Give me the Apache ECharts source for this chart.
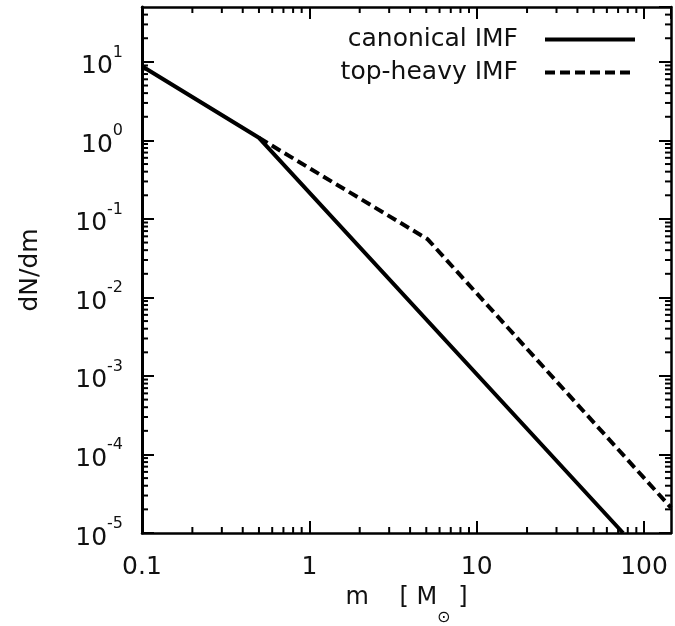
<!DOCTYPE html>
<html>
<head>
<meta charset="utf-8">
<script src="https://cdn.jsdelivr.net/npm/echarts@6/dist/echarts.min.js"></script>
<style>
  html, body { margin: 0; padding: 0; background: #fff; }
  #chart { width: 675px; height: 626px; }
</style>
</head>
<body>
<div id="chart"></div>
<script>
// ---- data ----
const seriesNames = ['canonical IMF', 'top-heavy IMF'];
const canonicalIMF = [[0.1, 8.8], [0.5, 1.08], [75, 1.0e-5]];
const topHeavyIMF = [[0.5, 1.08], [5.1, 0.055], [145, 2.1e-5]];
const xTickValues = [0.1, 1, 10, 100];
const xTickLabels = ['0.1', '1', '10', '100'];
const yTickExponents = [-5, -4, -3, -2, -1, 0, 1];
const minorMultipliers = [2, 3, 4, 5, 6, 7, 8, 9];
const xDecades = [0.1, 1, 10, 100];
const yDecades = [1e-5, 1e-4, 1e-3, 1e-2, 1e-1, 1, 10];
const xRange = [0.1, 145];
const yRange = [1e-5, 50];

const FONT = 'DejaVu Sans';
const TXT = '#111';

function minorList(decades, range) {
  const out = [];
  decades.forEach(d => minorMultipliers.forEach(m => {
    const v = d * m;
    if (v > range[0] && v < range[1]) out.push(v);
  }));
  return out;
}
const xMinor = minorList(xDecades, xRange);
const yMinor = minorList(yDecades, yRange);

function minorTickSeries(vals, dir) {
  return {
    type: 'custom',
    xAxisIndex: 0, yAxisIndex: 0,
    silent: true, clip: false, z: 5,
    data: vals.map(v => dir === 'x' ? [v, 1] : [1, v]),
    renderItem: function (params, api) {
      const cs = params.coordSys;
      const L = 6;
      const st = { stroke: '#000', lineWidth: 2 };
      if (dir === 'x') {
        const px = api.coord([api.value(0), 1])[0];
        const yb = cs.y + cs.height, yt = cs.y;
        return { type: 'group', children: [
          { type: 'line', shape: { x1: px, y1: yb, x2: px, y2: yb - L }, style: st },
          { type: 'line', shape: { x1: px, y1: yt, x2: px, y2: yt + L }, style: st }
        ]};
      } else {
        const py = api.coord([1, api.value(1)])[1];
        const xl = cs.x, xr = cs.x + cs.width;
        return { type: 'group', children: [
          { type: 'line', shape: { x1: xl, y1: py, x2: xl + L, y2: py }, style: st },
          { type: 'line', shape: { x1: xr, y1: py, x2: xr - L, y2: py }, style: st }
        ]};
      }
    }
  };
}

const axisLineStyle = { color: '#000', width: 2.5 };
const majorTick = { show: true, inside: true, length: 12, lineStyle: { color: '#000', width: 2 } };

const chart = echarts.init(document.getElementById('chart'), null, { renderer: 'canvas' });
chart.setOption({
  backgroundColor: '#fff',
  animation: false,
  grid: { left: 142, right: 4, top: 7, bottom: 93, containLabel: false, outerBoundsMode: 'none' },
  legend: {
    orient: 'vertical',
    right: 33, top: 22,
    align: 'right',
    itemWidth: 90, itemHeight: 24, itemGap: 8,
    data: seriesNames,
    itemStyle: { opacity: 0 },
    lineStyle: { width: 4 },
    formatter: name => '{t|' + name + '}',
    textStyle: {
      color: TXT, fontFamily: FONT, fontSize: 25,
      rich: { t: { color: TXT, fontFamily: FONT, fontSize: 25, padding: [0, 22, 0, 0] } }
    }
  },
  xAxis: [
    {
      type: 'log', logBase: 10, min: xRange[0], max: xRange[1], interval: 1,
      position: 'bottom',
      axisLine: { show: true, lineStyle: axisLineStyle },
      axisTick: majorTick,
      splitLine: { show: false },
      axisLabel: {
        color: TXT, fontFamily: FONT, fontSize: 25, margin: 22,
        showMaxLabel: false,
        formatter: v => {
          const i = xTickValues.findIndex(t => Math.abs(Math.log10(t) - Math.log10(v)) < 1e-6);
          return i >= 0 ? xTickLabels[i] : '';
        }
      },
      name: '{a|m    [ M}{sub|⊙}{a| ]}',
      nameLocation: 'middle', nameGap: 53,
      nameTextStyle: {
        color: TXT, fontFamily: FONT, fontSize: 24,
        rich: {
          a: { color: TXT, fontFamily: FONT, fontSize: 24, lineHeight: 26, verticalAlign: 'top' },
          sub: { color: TXT, fontFamily: FONT, fontSize: 16, lineHeight: 40, verticalAlign: 'bottom' }
        }
      }
    },
    {
      type: 'log', logBase: 10, min: xRange[0], max: xRange[1], interval: 1,
      position: 'top',
      axisLine: { show: true, lineStyle: axisLineStyle },
      axisTick: majorTick,
      splitLine: { show: false },
      axisLabel: { show: false }
    }
  ],
  yAxis: [
    {
      type: 'log', logBase: 10, min: yRange[0], max: yRange[1], interval: 1,
      position: 'left',
      axisLine: { show: true, lineStyle: { color: '#000', width: 3 } },
      axisTick: majorTick,
      splitLine: { show: false },
      axisLabel: {
        margin: 19,
        showMaxLabel: false,
        formatter: v => {
          const e = Math.round(Math.log10(v));
          if (yTickExponents.indexOf(e) < 0 || Math.abs(Math.log10(v) - e) > 1e-6) return '';
          return '{b|10}{s|' + e + '}';
        },
        rich: {
          b: { color: TXT, fontFamily: FONT, fontSize: 25, lineHeight: 25, verticalAlign: 'bottom' },
          s: { color: TXT, fontFamily: FONT, fontSize: 16, lineHeight: 35, verticalAlign: 'top' }
        }
      },
      name: 'dN/dm',
      nameLocation: 'middle', nameGap: 99, nameRotate: 90,
      nameTextStyle: { color: TXT, fontFamily: FONT, fontSize: 25 }
    },
    {
      type: 'log', logBase: 10, min: yRange[0], max: yRange[1], interval: 1,
      position: 'right',
      axisLine: { show: true, lineStyle: axisLineStyle },
      axisTick: majorTick,
      splitLine: { show: false },
      axisLabel: { show: false }
    }
  ],
  series: [
    {
      name: seriesNames[0], type: 'line', xAxisIndex: 0, yAxisIndex: 0,
      data: canonicalIMF, symbol: 'none', clip: true, z: 3,
      lineStyle: { color: '#000', width: 4, type: 'solid' },
      itemStyle: { color: '#000' }
    },
    {
      name: seriesNames[1], type: 'line', xAxisIndex: 0, yAxisIndex: 0,
      data: topHeavyIMF, symbol: 'none', clip: true, z: 2,
      lineStyle: { color: '#000', width: 4, type: [10, 5] },
      itemStyle: { color: '#000' }
    },
    minorTickSeries(xMinor, 'x'),
    minorTickSeries(yMinor, 'y')
  ]
});
</script>
</body>
</html>
